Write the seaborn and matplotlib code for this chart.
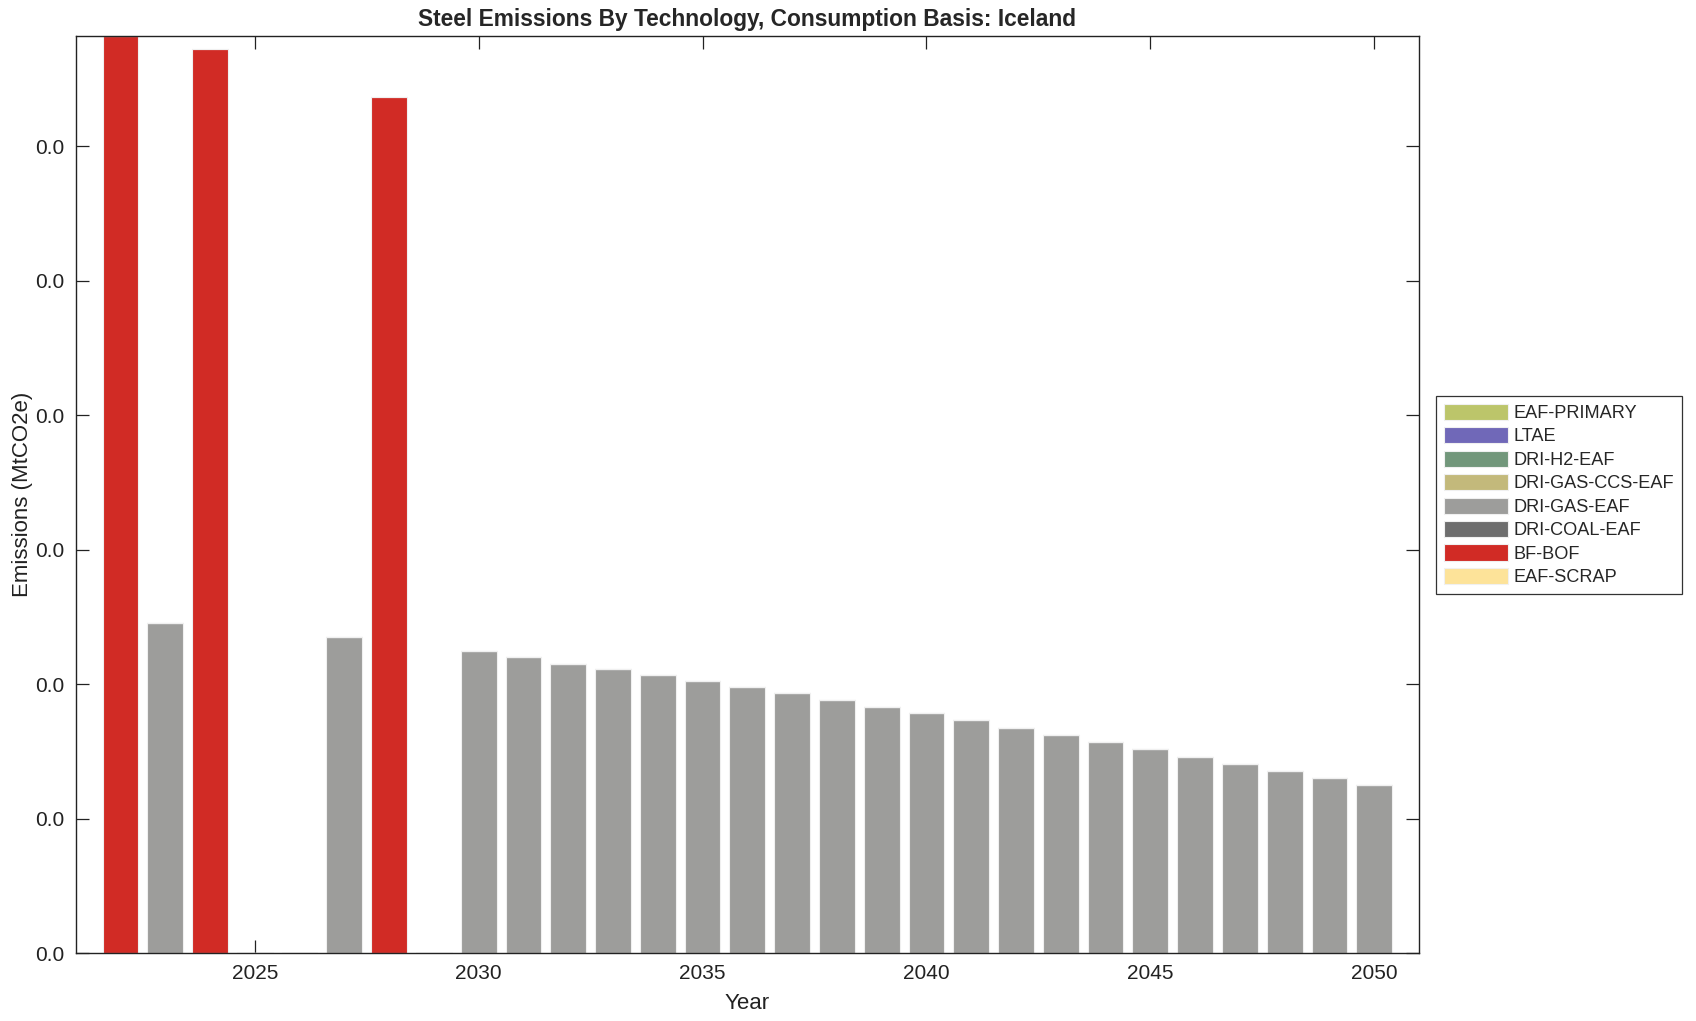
import numpy as np
import pandas as pd
import matplotlib
matplotlib.use("Agg")
import matplotlib.pyplot as plt
from matplotlib.ticker import FormatStrFormatter
import seaborn as sns

# Datos (MtCO2e)
years = list(range(2022, 2051))
techs = ["EAF-PRIMARY", "LTAE", "DRI-H2-EAF", "DRI-GAS-CCS-EAF",
         "DRI-GAS-EAF", "DRI-COAL-EAF", "BF-BOF", "EAF-SCRAP"]
colors = ["#bcc56a", "#7068b8", "#72977b", "#c3b97b",
          "#9d9d9b", "#6e6e6e", "#d12b25", "#fde399"]

bf_bof = [0.0341, 0, 0.03361, 0, 0, 0, 0.03184, 0] + [0] * 21
dri_gas_eaf = [0, 0.01227, 0, 0, 0, 0.01175, 0, 0,
               0.01124, 0.01102, 0.01076, 0.01056, 0.01035, 0.01013, 0.00989,
               0.00967, 0.00942, 0.00916, 0.00891, 0.00865, 0.00838, 0.00811,
               0.00785, 0.00759, 0.00730, 0.00703, 0.00675, 0.00651, 0.00624]

# Tabla larga: el resto de tecnologias en cero
rows = []
for t in techs:
    if t == "BF-BOF":
        vals = bf_bof
    elif t == "DRI-GAS-EAF":
        vals = dri_gas_eaf
    else:
        vals = [0] * len(years)
    for y, v in zip(years, vals):
        rows.append({"year": y, "tech": t, "value": v})
df = pd.DataFrame(rows)

sns.set_style("ticks")
plt.rcParams["font.family"] = ["Liberation Sans", "DejaVu Sans"]

fig = plt.figure(figsize=(16.96, 10.21), dpi=100)
ax = fig.add_axes([0.0446, 0.0666, 0.7921, 0.8981])

sns.histplot(data=df, x="year", weights="value", hue="tech",
             hue_order=techs[::-1], palette=dict(zip(techs, colors)),
             multiple="stack", discrete=True, shrink=0.8, alpha=1,
             edgecolor="#f0f0f0", linewidth=0.8, ax=ax)

ax.set_xlim(2021, 2051)
ax.set_ylim(0, 0.0341)
ax.set_xticks([2025, 2030, 2035, 2040, 2045, 2050])
ax.set_yticks(np.arange(0, 0.031, 0.005))
ax.yaxis.set_major_formatter(FormatStrFormatter("%.1f"))
ax.tick_params(direction="in", length=9.5, width=0.9, labelsize=15,
               top=True, right=True, colors="#222222", pad=8)
for s in ax.spines.values():
    s.set_color("#222222")
    s.set_linewidth(1.0)

ax.set_title("Steel Emissions By Technology, Consumption Basis: Iceland",
             fontsize=16.4, fontweight="bold", pad=7)
ax.set_xlabel("Year", fontsize=16, color="#222222", labelpad=7)
ax.set_ylabel("Emissions (MtCO2e)", fontsize=16, color="#222222", labelpad=2)

# leyenda en el orden de la referencia
handles, labels = ax.get_legend().legend_handles, [t.get_text() for t in ax.get_legend().get_texts()]
order = [labels.index(t) for t in techs]
ax.legend([handles[i] for i in order], [labels[i] for i in order],
          loc="upper left", bbox_to_anchor=(1436 / 1696, 1 - 396 / 1021),
          bbox_transform=fig.transFigure, frameon=True, fancybox=False,
          fontsize=13.1, handlelength=3.55, handleheight=1.0,
          labelspacing=0.28, handletextpad=0.3, borderpad=0.42,
          borderaxespad=0, edgecolor="black")
ax.get_legend().get_frame().set_linewidth(0.9)

fig.savefig("out.png", dpi=100)
